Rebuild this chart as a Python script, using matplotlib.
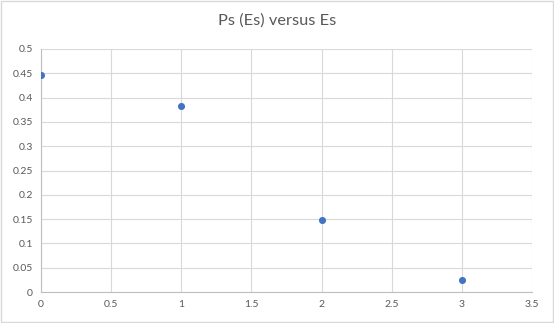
import matplotlib.pyplot as plt
import numpy as np

# data
es = [0, 1, 2, 3]
ps = [0.446, 0.383, 0.148, 0.024]
x_ticks = [0, 0.5, 1, 1.5, 2, 2.5, 3, 3.5]
y_ticks = [0, 0.05, 0.1, 0.15, 0.2, 0.25, 0.3, 0.35, 0.4, 0.45, 0.5]

plt.rcParams['font.family'] = ['Lato', 'DejaVu Sans']

fig = plt.figure(figsize=(5.54, 3.23), dpi=100)
ax = fig.add_axes([41 / 554, 1 - 292 / 323, 491 / 554, 243 / 323])

ax.scatter(es, ps, s=26, color='#4472C4', zorder=3, linewidths=0)

ax.set_xlim(0, 3.5)
ax.set_ylim(0, 0.5)
ax.set_xticks(x_ticks)
ax.set_yticks(y_ticks)
ax.set_xticklabels([f'{v:g}' for v in x_ticks])
ax.set_yticklabels([f'{v:g}' for v in y_ticks])
ax.grid(True, color='#D9D9D9', linewidth=0.8)
ax.set_axisbelow(True)
for side in ['top', 'right']:
    ax.spines[side].set_visible(False)
for side in ['left', 'bottom']:
    ax.spines[side].set_color('#BFBFBF')
    ax.spines[side].set_linewidth(0.8)
ax.tick_params(length=0, labelsize=7.5, colors='#595959', pad=6)

fig.text(0.5, 1 - 21 / 323, 'Ps (Es) versus Es', ha='center', va='center',
         fontsize=11.8, color='#595959')

# light frame around the chart
fig.patches.append(plt.Rectangle((0.001, 0.002), 0.997, 0.995, transform=fig.transFigure,
                                 fill=False, edgecolor='#D9D9D9', linewidth=1))

fig.savefig('out.png', dpi=100)
